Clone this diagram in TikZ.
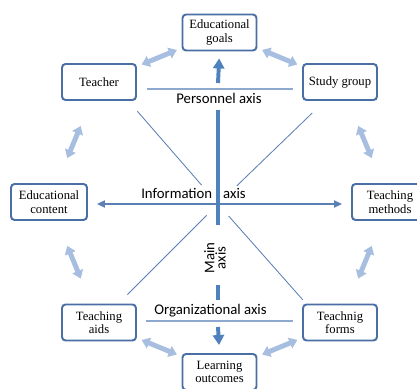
\documentclass[tikz,border=0pt]{standalone}
\usepackage{fontspec}
\newfontfamily\boxfont{Liberation Serif}
\newfontfamily\axisfont{Carlito}
\usepackage{tikz}
\usetikzlibrary{arrows.meta}
\definecolor{boxblue}{HTML}{4A6FA5}
\definecolor{axisblue}{HTML}{4F81BD}
\definecolor{paleblue}{HTML}{A7BEE0}
\definecolor{lineblue}{HTML}{5B80B5}
\definecolor{rulerblue}{HTML}{8EA8D0}

\begin{document}
\begin{tikzpicture}[x=0.25mm, y=-0.25mm,
    box/.style={draw=boxblue, line width=1.4pt, rounded corners=0.9mm, fill=white,
        minimum width=18.5mm, minimum height=9mm, align=center, inner sep=1pt,
        font=\boxfont\fontsize{9}{9.6}\selectfont},
    pale/.style={paleblue, line width=3.5pt,
        arrows={Triangle[width=2.8mm,length=2mm]-Triangle[width=2.8mm,length=2mm]}},
    mainbar/.style={axisblue, line width=2.8pt},
    mainarrow/.style={axisblue, line width=2.8pt, arrows={-Triangle[width=2.8mm,length=2.5mm]}},
    infoaxis/.style={lineblue, line width=0.9pt, shorten <=2.25mm, shorten >=2.25mm,
        arrows={Triangle[width=1.8mm,length=2mm]-Triangle[width=1.8mm,length=2mm]}},
    spoke/.style={lineblue, line width=0.6pt},
    ruler/.style={rulerblue, line width=0.85pt},
    axislabel/.style={inner sep=0pt, font=\axisfont\fontsize{10.5}{8}\selectfont}
]
    \useasboundingbox (0,0) rectangle (417,389);

    % the eight boxes around the axes
    \node[box] (goals) at (219.5,32.5) {Educational\\goals};
    \node[box] (teacher) at (99,82) {Teacher};
    \node[box] (study) at (340,82) {Study group};
    \node[box, minimum width=19mm] (content) at (49,202) {Educational\\content};
    \node[box, minimum width=19mm] (methods) at (390,202) {Teaching\\methods};
    \node[box] (aids) at (99,322.5) {Teaching\\aids};
    \node[box] (forms) at (340,322.5) {Teachnig\\forms};
    \node[box] (outcomes) at (219.5,372) {Learning\\outcomes};

    \coordinate (hub) at (218,204);

    % pale double arrows between neighbours
    \draw[pale, shorten <=1.25mm, shorten >=1.25mm] (teacher) -- (goals);
    \draw[pale, shorten <=1.25mm, shorten >=1.25mm] (goals) -- (study);
    \draw[pale, shorten <=6.75mm, shorten >=6.75mm] (teacher) -- (content);
    \draw[pale, shorten <=6.75mm, shorten >=6.75mm] (study) -- (methods);
    \draw[pale, shorten <=6.75mm, shorten >=6.75mm] (content) -- (aids);
    \draw[pale, shorten <=6.75mm, shorten >=6.75mm] (methods) -- (forms);
    \draw[pale, shorten <=1.25mm, shorten >=1.25mm] (aids) -- (outcomes);
    \draw[pale, shorten <=1.25mm, shorten >=1.25mm] (forms) -- (outcomes);

    % thin spokes toward the centre
    \foreach \ang/\rin/\rlen in {229/25/98, 316/26/105, 135/16/112, 48.5/16/112}
        \draw[spoke] (hub) ++(\ang:\rin) -- ++(\ang:\rlen);

    % information axis
    \draw[infoaxis] (content.east |- hub) -- (methods.west |- hub);
    \node[axislabel] (information) at (193.5,193) {Information\hspace{2.75mm}axis};

    % personnel axis
    \draw[ruler] (147,89) -- (293,89);
    \node[axislabel] (personnel) at (219,98) {Personnel axis};
    \draw[mainarrow, shorten >=1.75mm] (218,83) -- (goals.south);

    % main axis
    \draw[mainbar] (218,110) -- (218,225);
    \node[axislabel, rotate=90, align=center] (mainlabel) at (215,258) {Main\\axis};
    \draw[mainbar] (218,285) -- (218,300);

    % organizational axis
    \node[axislabel] (organizational) at (210.5,311) {Organizational axis};
    \draw[ruler] (146,321) -- (293,321);
    \draw[mainarrow, shorten >=2mm] (218,327) -- (outcomes.north);

\end{tikzpicture}
\end{document}
